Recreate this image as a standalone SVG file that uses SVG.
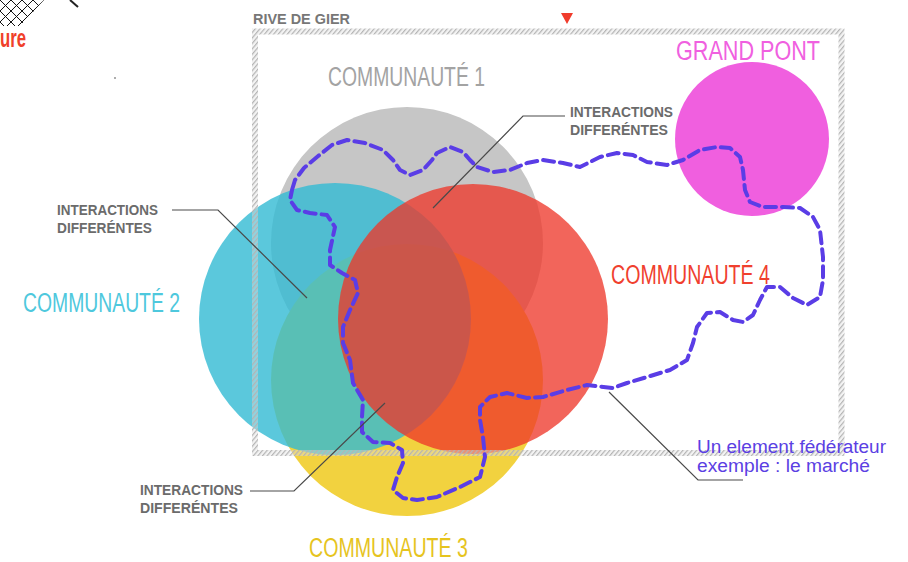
<svg xmlns="http://www.w3.org/2000/svg" width="908" height="562" viewBox="0 0 908 562">
  <style>
    .cap { font-family: "Liberation Sans", Arial, sans-serif; font-size: 27px; }
    .lbl { font-family: "Liberation Sans", Arial, sans-serif; font-size: 14.5px; font-weight: bold; fill: #6b6b6b; }
    .lead { fill: none; stroke: #4a4a4a; stroke-width: 1.2; }
    .fed { font-family: "Liberation Sans", Arial, sans-serif; font-size: 18px; fill: #5b3fe3; }
  </style>
  <defs>
    <pattern id="hatch" patternUnits="userSpaceOnUse" width="3.5" height="3.5" patternTransform="rotate(40)">
      <rect width="3.5" height="3.5" fill="#e2e2e2" fill-opacity="0.4"/>
      <rect width="1.2" height="3.5" fill="#b4b4b4"/>
    </pattern>
    <clipPath id="netclip">
      <polygon points="0,0 44,0 20,26 0,26"/>
    </clipPath>
  </defs>
  <rect width="908" height="562" fill="#ffffff"/>

  <!-- cropped fragments at top-left -->
  <g id="fragment">
    <g clip-path="url(#netclip)" stroke="#111" stroke-width="1">
      <line x1="-22" y1="0" x2="18" y2="40"/>
      <line x1="-11" y1="0" x2="29" y2="40"/>
      <line x1="0" y1="0" x2="40" y2="40"/>
      <line x1="11" y1="0" x2="51" y2="40"/>
      <line x1="22" y1="0" x2="62" y2="40"/>
      <line x1="33" y1="0" x2="73" y2="40"/>
      <line x1="11" y1="0" x2="-29" y2="40"/>
      <line x1="22" y1="0" x2="-18" y2="40"/>
      <line x1="33" y1="0" x2="-7" y2="40"/>
      <line x1="44" y1="0" x2="4" y2="40"/>
      <line x1="55" y1="0" x2="15" y2="40"/>
    </g>
    <line x1="70" y1="0" x2="78" y2="7" stroke="#222" stroke-width="2"/>
    <circle cx="115" cy="78" r="0.8" fill="#444"/>
    <text x="0" y="47" font-family="Liberation Sans, Arial, sans-serif" font-size="26" font-weight="bold" fill="#f0402a" textLength="26" lengthAdjust="spacingAndGlyphs">ure</text>
  </g>

  <!-- circles -->
  <g id="communaute-1">
    <circle cx="407" cy="243" r="136" fill="#c6c6c6"/>
  </g>
  <g id="communaute-3">
    <circle cx="407" cy="380" r="136" fill="#f2d23f"/>
  </g>
  <g id="communaute-2">
    <circle cx="335" cy="319" r="136" fill="#32bad3" fill-opacity="0.8"/>
  </g>
  <g id="communaute-4">
    <circle cx="473" cy="319" r="135" fill="#ee3629" fill-opacity="0.77"/>
  </g>
  <g id="grand-pont">
    <circle cx="752" cy="139" r="77" fill="#f05fdf"/>
  </g>

  <!-- Rive de Gier frame -->
  <g id="rive-de-gier">
    <rect x="255" y="31.5" width="586.5" height="421.5" fill="none" stroke="url(#hatch)" stroke-width="6"/>
    <text x="253" y="24" font-family="Liberation Sans, Arial, sans-serif" font-size="14.5" font-weight="bold" fill="#777777" textLength="97" lengthAdjust="spacingAndGlyphs">RIVE DE GIER</text>
    <polygon points="561,13 573,13 567,24" fill="#f03c2c"/>
  </g>

  <!-- circle titles -->
  <g id="titles">
    <text class="cap" x="328" y="86" fill="#a3a3a3" textLength="157" lengthAdjust="spacingAndGlyphs">COMMUNAUTÉ 1</text>
    <text class="cap" x="23" y="312" fill="#4ec8dd" textLength="157" lengthAdjust="spacingAndGlyphs">COMMUNAUTÉ 2</text>
    <text class="cap" x="309" y="557" fill="#e6c41e" font-size="26" textLength="159" lengthAdjust="spacingAndGlyphs">COMMUNAUTÉ 3</text>
    <text class="cap" x="611" y="284" fill="#f0402e" textLength="159" lengthAdjust="spacingAndGlyphs">COMMUNAUTÉ 4</text>
    <text class="cap" x="676" y="60" fill="#f060e0" font-size="28" textLength="144" lengthAdjust="spacingAndGlyphs">GRAND PONT</text>
  </g>

  <!-- element federateur: dashed loop -->
  <g id="marche">
    <path fill="none" stroke="#5a3de6" stroke-width="4" stroke-dasharray="11 6" stroke-linecap="round" stroke-linejoin="round"
      d="M292,190 L295,180 L304,168 L317,157 L332,145 L347,140 L365,143 L383,150 L393,160 L400,170 L410,175 L423,170 L432,160 L437,153 L450,147 L463,152 L470,160 L477,167 L493,172 L510,170 L527,163 L543,160 L563,163 L580,167 L600,157 L617,153 L633,155 L647,162 L667,165 L683,160 L700,150 L717,147 L730,148 L740,157 L743,170 L745,190 L750,202 L763,207 L783,207 L800,208 L813,217 L820,230 L823,257 L823,280 L820,297 L807,305 L793,298 L780,287 L767,287 L760,300 L753,315 L743,322 L733,320 L720,312 L707,313 L697,327 L693,343 L687,360 L670,370 L647,377 L627,383 L613,388 L587,385 L567,390 L543,397 L527,398 L507,393 L490,397 L480,407 L480,420 L483,437 L485,457 L480,477 L460,487 L437,497 L417,500 L403,498 L393,490 L397,477 L403,463 L402,450 L390,443 L373,442 L362,432 L362,417 L363,400 L353,383 L350,360 L343,343 L343,327 L350,310 L358,293 L355,280 L342,273 L330,265 L330,250 L335,227 L327,215 L310,213 L297,210 L290,200 Z"/>
  </g>

  <!-- leader lines -->
  <g id="connectors">
    <polyline class="lead" points="565,116 523,116 433,208"/>
    <polyline class="lead" points="172,210 218,210 307,298"/>
    <polyline class="lead" points="250,491 294,491 385,403"/>
    <polyline class="lead" points="609,392 698,480 743,480"/>
  </g>

  <!-- labels -->
  <g id="label-interactions-1">
    <text class="lbl" x="570" y="117" textLength="103" lengthAdjust="spacingAndGlyphs">INTERACTIONS</text>
    <text class="lbl" x="570" y="135" textLength="98" lengthAdjust="spacingAndGlyphs">DIFFERÉNTES</text>
  </g>
  <g id="label-interactions-2">
    <text class="lbl" x="57" y="215" textLength="101" lengthAdjust="spacingAndGlyphs">INTERACTIONS</text>
    <text class="lbl" x="57" y="233" textLength="95" lengthAdjust="spacingAndGlyphs">DIFFERÉNTES</text>
  </g>
  <g id="label-interactions-3">
    <text class="lbl" x="140" y="495" textLength="103" lengthAdjust="spacingAndGlyphs">INTERACTIONS</text>
    <text class="lbl" x="140" y="513" textLength="98" lengthAdjust="spacingAndGlyphs">DIFFERÉNTES</text>
  </g>
  <g id="label-federateur">
    <text class="fed" x="697" y="453" textLength="189" lengthAdjust="spacingAndGlyphs">Un element fédérateur</text>
    <text class="fed" x="697" y="472" textLength="173" lengthAdjust="spacingAndGlyphs">exemple : le marché</text>
  </g>
</svg>
